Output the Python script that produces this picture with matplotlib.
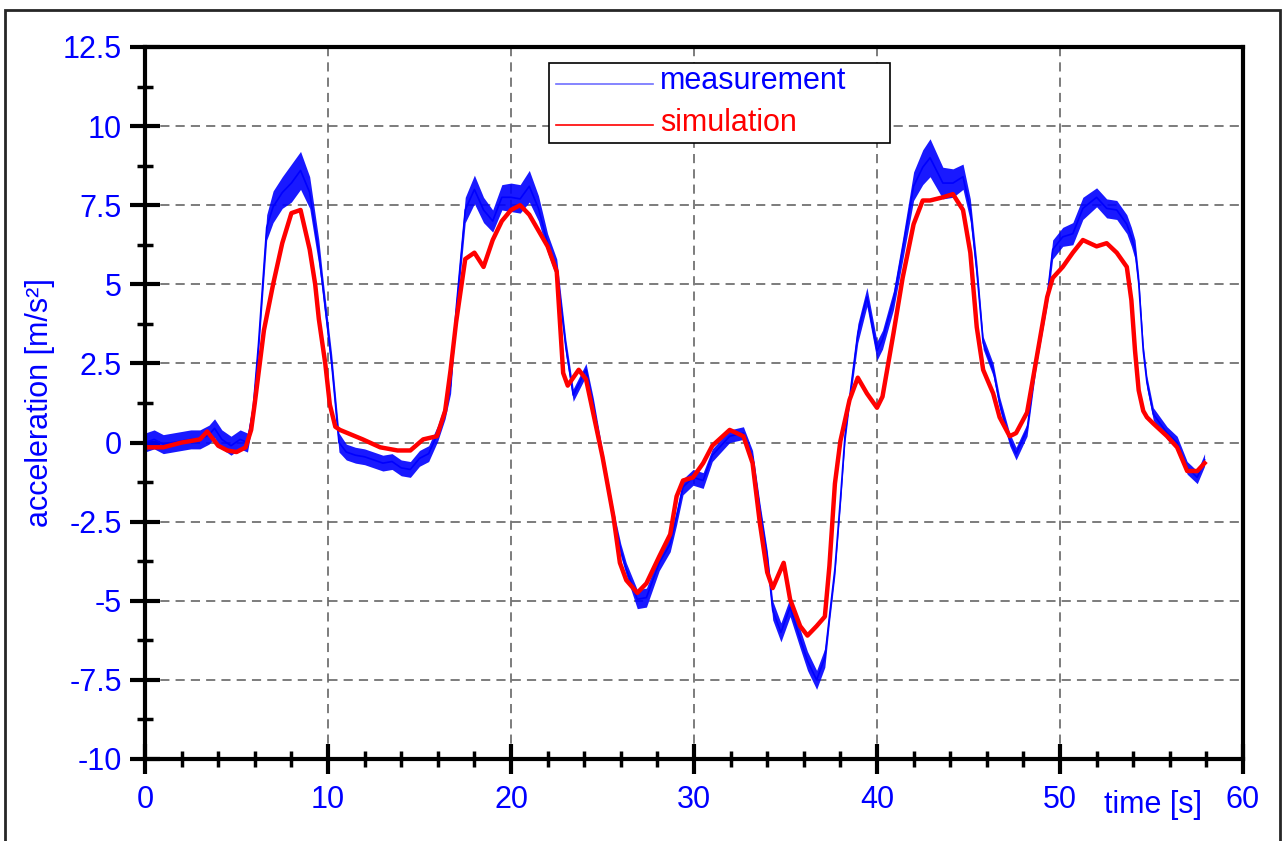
import matplotlib
matplotlib.use('Agg')
import matplotlib.pyplot as plt
from matplotlib.ticker import MultipleLocator
from matplotlib.patches import Rectangle
from matplotlib.lines import Line2D
from matplotlib.transforms import blended_transform_factory

plt.rcParams['font.family'] = ['Liberation Sans', 'DejaVu Sans']
plt.rcParams['axes.unicode_minus'] = False

meas_t = [0, 0.5, 1, 1.5, 2, 2.5, 3, 3.5, 3.8, 4.2,
          4.7, 5.2, 5.6, 5.9, 6.2, 6.65, 7.0, 7.5, 8.0, 8.5,
          9.0, 9.5, 9.7, 10.2, 10.6, 11, 11.5, 12, 12.5, 13,
          13.5, 14, 14.5, 15, 15.5, 16, 16.4, 16.7, 17, 17.5,
          18, 18.5, 19, 19.5, 20, 20.5, 21, 21.5, 22, 22.5,
          23, 23.4, 24.1, 24.5, 25, 25.6, 26, 26.3, 26.9, 27.4,
          28.1, 28.7, 29.05, 29.4, 29.95, 30.5, 31, 31.95, 32.7, 33.2,
          33.6, 34.0, 34.3, 34.75, 35.25, 35.8, 36.2, 36.7, 37.15, 37.4,
          37.7, 38.0, 38.25, 38.5, 38.95, 39.45, 40.0, 40.3, 40.9, 41.4,
          42.0, 42.5, 42.9, 43.6, 44.15, 44.7, 45.1, 45.45, 45.8, 46.35,
          46.7, 47.25, 47.6, 48.2, 48.7, 49.3, 49.6, 50.15, 50.7, 51.25,
          52.0, 52.55, 53.1, 53.65, 53.9, 54.1, 54.3, 54.55, 54.75, 55.1,
          55.85, 56.4, 56.95, 57.5, 57.9]
meas_a = [0.0, 0.1, -0.05, 0.0, 0.05, 0.1, 0.1, 0.25, 0.45, 0.1,
          -0.1, 0.1, 0.0, 1.0, 3.1, 6.8, 7.45, 7.9, 8.2, 8.6,
          7.9, 6.0, 5.0, 2.5, 0.0, -0.3, -0.4, -0.45, -0.55, -0.65,
          -0.6, -0.8, -0.85, -0.5, -0.35, 0.3, 1.0, 1.8, 4.2, 7.35,
          8.0, 7.35, 7.0, 7.75, 7.75, 7.7, 8.1, 7.4, 6.3, 5.5,
          3.0, 1.5, 2.3, 1.2, -0.45, -2.35, -3.4, -4.0, -4.95, -4.9,
          -3.8, -3.2, -2.35, -1.4, -1.1, -1.2, -0.4, 0.2, 0.3, -0.45,
          -2.1, -3.6, -5.3, -6.0, -5.2, -6.2, -6.9, -7.5, -6.8, -5.5,
          -4.0, -1.8, 0.2, 1.4, 3.45, 4.6, 2.9, 3.25, 4.5, 6.1,
          8.1, 8.7, 9.0, 8.2, 8.2, 8.4, 7.35, 5.45, 3.15, 2.3,
          1.25, 0.1, -0.35, 0.4, 2.6, 4.6, 6.1, 6.5, 6.6, 7.4,
          7.75, 7.4, 7.35, 6.9, 6.5, 6.1, 5.05, 2.9, 1.9, 0.9,
          0.3, 0.0, -0.8, -1.1, -0.55]
# half width of the noisy blue band
meas_spread = [0.3, 0.3, 0.3, 0.3, 0.3, 0.3, 0.3, 0.3, 0.3, 0.3,
               0.3, 0.3, 0.3, 0.3, 0.3, 0.4, 0.5, 0.5, 0.6, 0.6,
               0.5, 0.4, 0.3, 0.3, 0.3, 0.25, 0.25, 0.25, 0.25, 0.25,
               0.25, 0.25, 0.25, 0.25, 0.25, 0.25, 0.25, 0.25, 0.3, 0.4,
               0.45, 0.4, 0.35, 0.4, 0.45, 0.45, 0.5, 0.4, 0.3, 0.3,
               0.25, 0.2, 0.2, 0.2, 0.2, 0.2, 0.2, 0.2, 0.3, 0.3,
               0.25, 0.25, 0.25, 0.25, 0.25, 0.25, 0.2, 0.2, 0.2, 0.2,
               0.2, 0.2, 0.3, 0.3, 0.3, 0.3, 0.3, 0.3, 0.3, 0.2,
               0.2, 0.2, 0.2, 0.2, 0.3, 0.3, 0.3, 0.3, 0.3, 0.35,
               0.45, 0.55, 0.6, 0.5, 0.45, 0.4, 0.35, 0.3, 0.2, 0.2,
               0.2, 0.2, 0.2, 0.2, 0.2, 0.25, 0.3, 0.3, 0.35, 0.35,
               0.3, 0.3, 0.3, 0.3, 0.3, 0.3, 0.25, 0.2, 0.2, 0.2,
               0.2, 0.2, 0.2, 0.2, 0.2]

# simulation (red)
sim_t = [0, 1, 2, 3, 3.4, 4, 4.5, 5, 5.5, 5.8,
         6, 6.5, 7, 7.5, 8, 8.5, 9, 9.3, 9.5, 9.85,
         10.1, 10.4, 10.65, 11.9, 12.85, 13.8, 14.5, 15.2, 15.95, 16.4,
         16.7, 17.0, 17.5, 18, 18.5, 19, 19.5, 20, 20.5, 21,
         21.5, 22, 22.5, 22.85, 23.1, 23.7, 24.1, 25.0, 25.6, 25.95,
         26.3, 26.9, 27.4, 28.1, 28.7, 29.05, 29.4, 29.95, 30.5, 31,
         31.95, 32.7, 33.2, 33.6, 34.0, 34.3, 34.9, 35.25, 35.8, 36.2,
         36.7, 37.15, 37.4, 37.7, 38.0, 38.25, 38.5, 38.95, 39.45, 40.0,
         40.3, 40.9, 41.4, 42.0, 42.5, 42.9, 43.6, 44.15, 44.7, 45.1,
         45.45, 45.8, 46.35, 46.7, 47.25, 47.6, 48.2, 48.7, 49.3, 49.6,
         50.15, 50.7, 51.25, 52.0, 52.55, 53.1, 53.65, 53.9, 54.1, 54.3,
         54.55, 54.75, 55.1, 55.85, 56.4, 56.95, 57.5, 57.9]
sim_a = [-0.15, -0.15, 0.0, 0.1, 0.35, -0.1, -0.25, -0.3, -0.15, 0.4,
         1.25, 3.55, 5.0, 6.3, 7.25, 7.35, 6.1, 5.0, 3.9, 2.5,
         1.2, 0.5, 0.4, 0.1, -0.15, -0.25, -0.25, 0.1, 0.2, 1.0,
         2.3, 3.8, 5.8, 6.0, 5.55, 6.4, 7.0, 7.35, 7.5, 7.2,
         6.7, 6.2, 5.4, 2.2, 1.8, 2.3, 2.0, -0.45, -2.35, -3.8,
         -4.35, -4.75, -4.45, -3.6, -2.9, -1.7, -1.2, -1.1, -0.65, -0.1,
         0.4, 0.2, -0.65, -2.55, -4.1, -4.6, -3.8, -4.95, -5.8, -6.1,
         -5.8, -5.5, -3.9, -1.3, 0.05, 0.7, 1.35, 2.05, 1.55, 1.1,
         1.45, 3.45, 5.2, 6.9, 7.65, 7.65, 7.75, 7.85, 7.35, 6.0,
         3.65, 2.3, 1.55, 0.8, 0.2, 0.3, 0.95, 2.6, 4.6, 5.2,
         5.55, 6.0, 6.4, 6.2, 6.3, 6.0, 5.55, 4.5, 2.9, 1.65,
         1.0, 0.8, 0.6, 0.2, -0.15, -0.9, -0.9, -0.65]

blue = '#0000ff'
red = '#ff0000'
fs = 22

fig = plt.figure(figsize=(12.84, 8.41), dpi=100)
ax = fig.add_axes([145/1284, 1-759/841, 1098/1284, 712/841])

lo = [a - s for a, s in zip(meas_a, meas_spread)]
hi = [a + s for a, s in zip(meas_a, meas_spread)]
ax.fill_between(meas_t, lo, hi, color=blue, alpha=0.9, lw=0)
ax.plot(meas_t, meas_a, color=blue, lw=1.2)
ax.plot(sim_t, sim_a, color=red, lw=3.2, solid_joinstyle='round')

ax.set_xlim(0, 60)
ax.set_ylim(-10, 12.5)
ax.xaxis.set_major_locator(MultipleLocator(10))
ax.xaxis.set_minor_locator(MultipleLocator(2))
ax.yaxis.set_major_locator(MultipleLocator(2.5))
ax.yaxis.set_minor_locator(MultipleLocator(1.25))
ax.yaxis.set_major_formatter(lambda v, p: '%g' % v)

ax.grid(which='major', linestyle=(0, (6, 4)), color='0.35', lw=1.1)
ax.set_axisbelow(True)
for s in ax.spines.values():
    s.set_linewidth(3)

ax.tick_params(which='major', direction='inout', length=21, width=3,
               labelsize=fs, labelcolor=blue)
ax.tick_params(which='minor', direction='inout', length=11.5, width=2.5)
ax.tick_params(axis='x', which='major', pad=8)
ax.tick_params(axis='y', which='major', pad=6)

fig.text(40/1284, 1-403/841, 'acceleration [m/s²]', rotation=90,
         ha='center', va='center', fontsize=fs, color=blue)
trans = blended_transform_factory(ax.transData, ax.transAxes)
ax.text(55.1, -0.065, 'time [s]', transform=trans, ha='center', va='center',
        fontsize=fs, color=blue)

# legend box
ax.add_patch(Rectangle((0.368, 0.865), 0.3105, 0.1125, transform=ax.transAxes,
                       facecolor='white', edgecolor='black', lw=1.2, zorder=5))
ax.add_line(Line2D([0.374, 0.4625], [0.9485, 0.9485], transform=ax.transAxes,
                   color='#6f6fff', lw=1.2, zorder=6))
ax.add_line(Line2D([0.374, 0.4625], [0.8905, 0.8905], transform=ax.transAxes,
                   color=red, lw=1.2, zorder=6))
ax.text(0.469, 0.952, 'measurement', transform=ax.transAxes, ha='left',
        va='center', fontsize=fs, color=blue, zorder=6)
ax.text(0.469, 0.893, 'simulation', transform=ax.transAxes, ha='left',
        va='center', fontsize=fs, color=red, zorder=6)

fig.add_artist(Rectangle((5/1284, -0.01), 1275/1284, 1-10/841+0.01,
                         transform=fig.transFigure, fill=False,
                         edgecolor='0.15', lw=2))

fig.savefig('out.png', dpi=100)
